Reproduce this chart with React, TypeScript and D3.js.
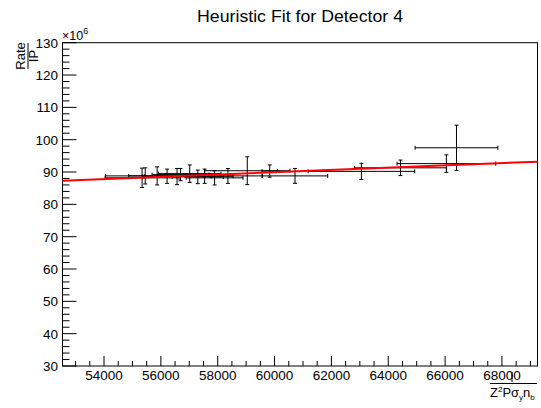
import React from "react";
import * as d3 from "d3";

const title = "Heuristic Fit for Detector 4";
const xVals = [55340, 55450, 55870, 56220, 56570, 56690, 57015, 57300, 57540, 57890, 58360, 59040, 59830, 60720, 63055, 64430, 66045, 66400];
const yVals = [88.2, 88.8, 88.8, 88.7, 88.6, 89.2, 89.5, 88.5, 88.7, 88.2, 88.8, 90.4, 90.3, 88.8, 90.2, 91.3, 92.6, 97.5];
const xErrs = [1300, 1400, 1000, 800, 1200, 1000, 1100, 900, 1000, 1000, 1200, 1500, 270, 1150, 1875, 1620, 1735, 1455];
const yErrs = [3.0, 2.5, 2.8, 2.2, 2.5, 1.9, 2.7, 2.1, 2.2, 2.2, 2.3, 4.3, 1.9, 2.3, 2.5, 2.4, 2.7, 7.0];
const fitX = [52540, 69250];
const fitY = [87.3, 93.2];
const xMajorTicks = [54000, 56000, 58000, 60000, 62000, 64000, 66000, 68000];
const yMajorTicks = [30, 40, 50, 60, 70, 80, 90, 100, 110, 120, 130];

const W = 541, H = 408;
const L = 62.5, R = 537.5, T = 42.7, B = 366;
const FONT = "'Liberation Sans', Arial, Helvetica, sans-serif";

export default function App() {
  const x = d3.scaleLinear().domain([52540, 69250]).range([L, R]);
  const y = d3.scaleLinear().domain([30, 130]).range([B, T]);
  const xMinor = d3.range(53000, 69250, 500).filter((v) => v % 2000 !== 0);
  const yMinor = d3.range(30, 130.01, 2).filter((v) => v % 10 !== 0);
  const fitLine = d3.line<number>().x((d, i) => x(fitX[i])).y((d, i) => y(fitY[i]));
  const cap = 2;
  return (
    <svg width={W} height={H} style={{ position: "fixed", left: 0, top: 0, background: "#fff" }} fontFamily={FONT}>
      <rect x={0} y={0} width={W} height={H} fill="#fff" />
      <text x={197} y={21.5} fontSize={16.5} textLength={206} lengthAdjust="spacingAndGlyphs">{title}</text>
      {/* frame */}
      <rect x={L} y={T} width={R - L} height={B - T} fill="none" stroke="#000" strokeWidth={1} />
      {/* x ticks */}
      {xMajorTicks.map((v) => (
        <g key={"xm" + v}>
          <line x1={x(v)} x2={x(v)} y1={B} y2={B - 10} stroke="#000" />
          <text x={x(v)} y={380} textAnchor="middle" fontSize={13.5}>{v}</text>
        </g>
      ))}
      {xMinor.map((v) => (
        <line key={"xn" + v} x1={x(v)} x2={x(v)} y1={B} y2={B - 5} stroke="#000" />
      ))}
      {/* y ticks */}
      {yMajorTicks.map((v) => (
        <g key={"ym" + v}>
          <line x1={L} x2={L + 14} y1={y(v)} y2={y(v)} stroke="#000" />
          <text x={58} y={y(v) + 5} textAnchor="end" fontSize={13.5}>{v}</text>
        </g>
      ))}
      {yMinor.map((v) => (
        <line key={"yn" + v} x1={L} x2={L + 7} y1={y(v)} y2={y(v)} stroke="#000" />
      ))}
      {/* exponent */}
      <text x={62} y={40} fontSize={12.5}>×10<tspan dy={-6} fontSize={9}>6</tspan></text>
      {/* y title fraction */}
      <g transform="translate(28,43) rotate(-90)">
        <text x={-13} y={-3} textAnchor="middle" fontSize={13}>Rate</text>
        <line x1={-26} x2={0} y1={0} y2={0} stroke="#000" />
        <text x={-13} y={10} textAnchor="middle" fontSize={13}>IP</text>
      </g>
      {/* x title fraction */}
      <line x1={490} x2={537} y1={383.5} y2={383.5} stroke="#000" />
      <line x1={512} x2={512} y1={372} y2={382} stroke="#000" />
      <text x={490} y={397} fontSize={13}>
        Z<tspan dy={-5} fontSize={8}>2</tspan><tspan dy={5}>Pσ</tspan><tspan dy={3} fontSize={8}>y</tspan><tspan dy={-3}>n</tspan><tspan dy={3} fontSize={8}>b</tspan>
      </text>
      {/* error bars */}
      <g stroke="#000" strokeWidth={1} fill="none">
        {xVals.map((xv, i) => {
          const cx = x(xv), cy = y(yVals[i]);
          const x0 = x(xv - xErrs[i]), x1 = x(xv + xErrs[i]);
          const y0 = y(yVals[i] - yErrs[i]), y1 = y(yVals[i] + yErrs[i]);
          return (
            <g key={"p" + i}>
              <line x1={x0} x2={x1} y1={cy} y2={cy} />
              <line x1={x0} x2={x0} y1={cy - cap} y2={cy + cap} />
              <line x1={x1} x2={x1} y1={cy - cap} y2={cy + cap} />
              <line x1={cx} x2={cx} y1={y0} y2={y1} />
              <line x1={cx - cap} x2={cx + cap} y1={y0} y2={y0} />
              <line x1={cx - cap} x2={cx + cap} y1={y1} y2={y1} />
            </g>
          );
        })}
      </g>
      <path d={fitLine(fitX) || ""} stroke="#ff0000" strokeWidth={2} fill="none" />
    </svg>
  );
}
